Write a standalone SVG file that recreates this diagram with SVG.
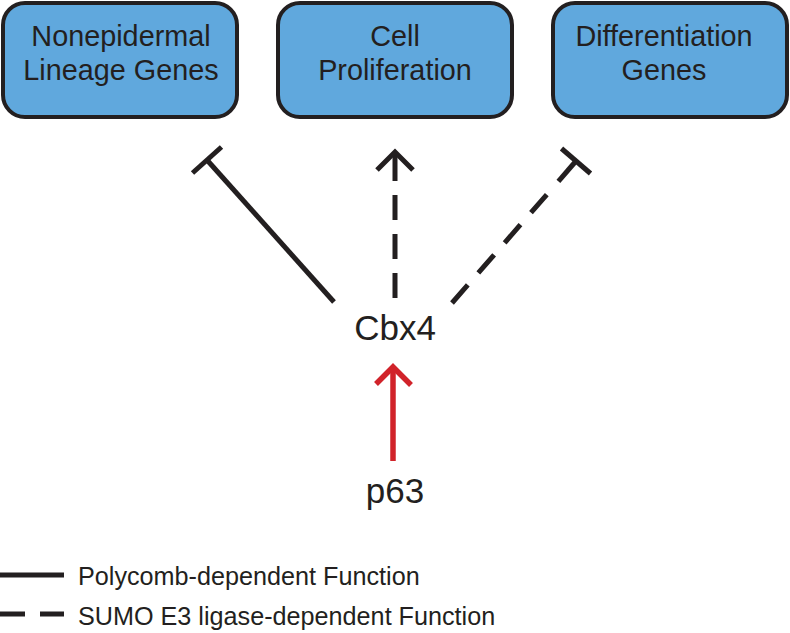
<svg xmlns="http://www.w3.org/2000/svg" width="790" height="633" viewBox="0 0 790 633">
<style>
.box{fill:#60a8dd;stroke:#231f20;stroke-width:4}
.bt{font-family:"Liberation Sans",Arial,sans-serif;font-size:28.8px;fill:#231f20;text-anchor:middle}
.nt{font-family:"Liberation Sans",Arial,sans-serif;font-size:35px;fill:#231f20;text-anchor:middle}
.lt{font-family:"Liberation Sans",Arial,sans-serif;font-size:25.2px;fill:#231f20}
.ln{fill:none;stroke:#231f20;stroke-width:5;stroke-linecap:butt}
.red{fill:none;stroke:#d1232a;stroke-width:5.5}
</style>
<rect width="790" height="633" fill="#ffffff"/>
<g id="node-nonepidermal">
<rect class="box" x="3" y="3" width="234" height="114" rx="22"/>
<text class="bt" x="121" y="46">Nonepidermal</text>
<text class="bt" x="121" y="80">Lineage Genes</text>
</g>
<g id="node-cell-proliferation">
<rect class="box" x="278" y="3" width="234" height="114" rx="22"/>
<text class="bt" x="395" y="46">Cell</text>
<text class="bt" x="395" y="80">Proliferation</text>
</g>
<g id="node-differentiation">
<rect class="box" x="553" y="3" width="234" height="114" rx="22"/>
<text class="bt" x="664" y="46">Differentiation</text>
<text class="bt" x="664" y="80">Genes</text>
</g>
<g id="node-cbx4">
<text class="nt" x="395" y="340">Cbx4</text>
</g>
<g id="node-p63">
<text class="nt" x="395" y="503">p63</text>
</g>
<g id="connectors">
<!-- Cbx4 -| Nonepidermal (solid) -->
<path class="ln" d="M334,302 L207,160"/>
<path class="ln" d="M192.5,173 L221.5,147"/>
<!-- Cbx4 -> Cell Proliferation (dashed) -->
<path class="ln" d="M395,298 L395,195" stroke-dasharray="25 14"/>
<path class="ln" d="M395,181 L395,154"/>
<path class="ln" d="M377,170 L395,152 L413,170"/>
<!-- Cbx4 -| Differentiation (dashed) -->
<path class="ln" d="M452,303 L549.4,191.6" stroke-dasharray="24 16"/>
<path class="ln" d="M558.4,181.3 L576,161"/>
<path class="ln" d="M561.5,148.5 L590.5,173.5"/>
<!-- p63 -> Cbx4 (red) -->
<path class="red" d="M393,461 L393,368"/>
<path class="red" d="M376,384 L393,367 L411,385"/>
</g>
<g id="legend">
<path class="ln" d="M0,575 L64,575"/>
<text class="lt" x="78" y="585">Polycomb-dependent Function</text>
<path class="ln" d="M0,614 L25,614 M40,614 L64,614"/>
<text class="lt" x="78" y="625">SUMO E3 ligase-dependent Function</text>
</g>
</svg>
